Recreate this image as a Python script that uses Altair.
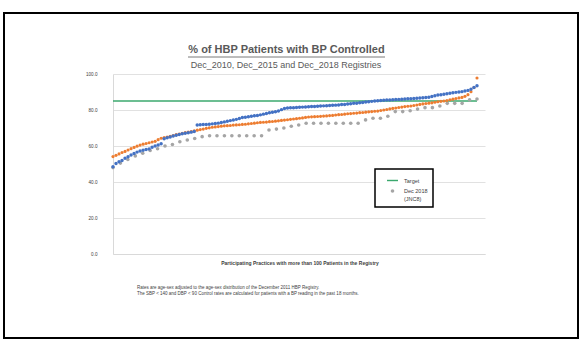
import altair as alt
import pandas as pd

# ---- series (practice control rates, sorted ascending within each registry) ----
series_names = ["Dec 2010", "Dec 2015", "Dec 2018 (JNC8)", "Target"]
series_colors = ["#4472C4", "#ED7D31", "#A5A5A5", "#3BA86E"]

dec_2010 = [
    48.5, 50.3, 51.2, 52.0, 53.2, 54.0, 55.0, 55.8, 56.6, 57.2,
    57.6, 58.0, 58.4, 59.3, 60.0, 60.6, 61.2, 64.0, 64.6, 65.0,
    65.5, 66.0, 66.4, 66.8, 67.1, 67.4, 67.7, 68.0,
    71.7, 71.8, 71.9, 72.0, 72.1, 72.3, 72.5, 72.7, 73.0, 73.4,
    73.8, 74.1, 74.4, 74.8, 75.3, 75.8, 76.0, 76.2, 76.5, 76.8,
    77.0, 77.3, 77.7, 78.1, 78.5, 78.8, 79.0, 79.5, 80.2, 80.8,
    81.1, 81.2, 81.3, 81.4, 81.5, 81.6, 81.7, 81.8, 81.9, 82.0,
    82.1, 82.2, 82.3, 82.4, 82.5, 82.6, 82.7, 82.8, 83.0, 83.1,
    83.3, 83.5, 83.7, 83.8, 84.0, 84.2, 84.4, 84.6, 84.8, 85.0,
    85.1, 85.3, 85.4, 85.5, 85.6, 85.7, 85.8, 85.9, 86.0, 86.1,
    86.2, 86.3, 86.4, 86.5, 86.7, 86.8, 86.9, 87.1, 87.5, 87.9,
    88.3, 88.5, 88.7, 89.0, 89.3, 89.6, 89.8, 90.0, 90.2, 90.5,
    90.9, 91.5, 92.5, 93.5,
]

dec_2015 = [
    54.1, 54.8, 55.6, 56.4, 57.0, 57.8, 58.5, 59.2, 59.9, 60.5,
    61.0, 61.4, 61.8, 62.2, 62.6, 63.5, 64.3, 64.7, 65.0, 65.4,
    65.8, 66.3, 66.6, 67.0, 67.4, 67.7, 68.0, 68.4, 68.8, 69.1,
    69.4, 69.8, 70.1, 70.4, 70.6, 70.8, 71.0, 71.2, 71.3, 71.4,
    71.6, 71.7, 71.8, 72.0, 72.1, 72.3, 72.5, 72.7, 72.9, 73.1,
    73.2, 73.3, 73.5, 73.6, 73.8, 74.0, 74.2, 74.4, 74.6, 74.8,
    75.0, 75.2, 75.4, 75.6, 75.9, 76.1, 76.2, 76.3, 76.4, 76.5,
    76.6, 76.7, 76.9, 77.0, 77.2, 77.4, 77.5, 77.7, 77.9, 78.0,
    78.2, 78.3, 78.5, 78.6, 78.8, 79.0, 79.1, 79.3, 79.4, 79.7,
    80.0, 80.3, 80.6, 80.9, 81.1, 81.4, 81.6, 81.9, 82.1, 82.2,
    82.5, 82.8, 83.1, 83.4, 83.6, 83.8, 84.0, 84.3, 84.6, 84.8,
    85.0, 85.3, 85.7, 86.0, 86.4, 86.7, 87.0, 87.6, 88.5, 90.2,
    92.5, 97.8,
]

dec_2018 = [
    48.0, 50.5, 52.5, 54.5, 56.0, 57.5, 58.5, 60.0, 60.8, 62.4,
    63.3, 64.2, 65.2, 65.7, 65.7, 65.7, 65.7, 65.7, 65.7, 65.7,
    65.7, 68.9, 69.4, 70.0, 71.0, 71.7, 72.6, 72.6, 72.6, 72.6,
    72.6, 72.6, 72.6, 72.6, 74.5, 75.4, 75.4, 76.5, 79.1, 79.1,
    79.6, 80.5, 81.3, 81.3, 82.2, 83.7, 83.7, 83.7, 85.6, 86.1,
]

target_rate = [85]
y_ticks = [0, 20, 40, 60, 80, 100]
legend_items = ["Target", "Dec 2018 (JNC8)"]

title_text = "% of HBP Patients with BP Controlled"
subtitle_text = "Dec_2010, Dec_2015 and Dec_2018 Registries"
x_title_text = "Participating Practices with more than 100 Patients in the Registry"
note_lines = [
    "Rates are age-sex adjusted to the age-sex distribution of the December 2011 HBP Registry.",
    "The SBP < 140 and DBP < 90 Control rates are calculated for patients with a BP reading in the past 18 months.",
]

FONT = "Liberation Sans"
GRID = "#D9D9D9"
TEXT = "#404040"


def ranked(values, name):
    """Spread one registry's sorted practices across a 0-100 rank axis."""
    n = len(values)
    return pd.DataFrame({
        "series": name,
        "rank": [100 * i / (n - 1) for i in range(n)],
        "rate": values,
    })


# draw order: 2018 underneath, then 2015, then 2010 on top
points = pd.concat([
    ranked(dec_2018, series_names[2]),
    ranked(dec_2015, series_names[1]),
    ranked(dec_2010, series_names[0]),
], ignore_index=True)

target_df = pd.DataFrame({"start": [0], "end": [100], "rate": target_rate})
one_row = pd.DataFrame({"k": [0]})

x_scale = alt.Scale(domain=[0, 102.2], nice=False, zero=False)
y_scale = alt.Scale(domain=[0, 100], nice=False)
x_axis = alt.Axis(labels=False, ticks=False, grid=False, title=None,
                  domainColor=GRID, domainWidth=1)
y_axis = alt.Axis(values=y_ticks, format=".1f", ticks=False, title=None,
                  domainColor=GRID, gridColor=GRID, gridWidth=0.8,
                  labelFont=FONT, labelFontSize=4.6, labelColor=TEXT,
                  labelPadding=16)

# trailing em spaces widen the legend box on the right
legend = alt.Legend(
    title=None, values=legend_items, orient="none", legendX=262, legendY=95,
    strokeColor="black", fillColor="white", padding=5, rowPadding=4,
    labelFont=FONT, labelFontSize=5.5, labelColor=TEXT, labelOffset=5,
    labelExpr=("datum.label == 'Target' ? 'Target' : "
               "['Dec 2018\u2003\u2003\u2003', '(JNC8)']"),
)
color_enc = alt.Color("series:N", legend=legend,
                      scale=alt.Scale(domain=series_names, range=series_colors))
shape_enc = alt.Shape("series:N", legend=legend,
                      scale=alt.Scale(domain=series_names,
                                      range=["circle", "circle", "circle",
                                             "M-1,-0.13H1V0.13H-1Z"]))
size_enc = alt.Size("series:N", legend=legend,
                    scale=alt.Scale(type="ordinal", domain=series_names,
                                    range=[12, 10, 13, 121]))

# outer slide frame
frame = alt.Chart(one_row).mark_rect(filled=False, stroke="black", strokeWidth=2).encode(
    x=alt.value(-109), x2=alt.value(465), y=alt.value(-61), y2=alt.value(264)
)

target = alt.Chart(target_df).mark_rule(color=series_colors[3], strokeWidth=1.4).encode(
    x=alt.X("start:Q", scale=x_scale, axis=x_axis),
    x2="end:Q",
    y=alt.Y("rate:Q", scale=y_scale, axis=y_axis),
)

dots = alt.Chart(points).mark_point(filled=True, opacity=1).encode(
    x=alt.X("rank:Q", scale=x_scale, axis=x_axis),
    y=alt.Y("rate:Q", scale=y_scale, axis=y_axis),
    color=color_enc, shape=shape_enc, size=size_enc,
)


def label(text, x, y, size, weight="normal", align="center", color=TEXT):
    return alt.Chart(pd.DataFrame({"t": [text]})).mark_text(
        font=FONT, fontSize=size, fontWeight=weight, align=align,
        baseline="middle", color=color,
    ).encode(text="t:N", x=alt.value(x), y=alt.value(y))


title = label(title_text, 173.5, -24, 11, weight="bold", color="#595959")
underline = alt.Chart(one_row).mark_rule(color="#595959", strokeWidth=0.8).encode(
    x=alt.value(75), x2=alt.value(272), y=alt.value(-17)
)
subtitle = label(subtitle_text, 173, -9, 9, color="#595959")
x_title = label(x_title_text, 187, 189, 5, weight="bold")
note1 = label(note_lines[0], 24, 214, 4.5, align="left")
note2 = label(note_lines[1], 24, 220, 4.5, align="left")

chart = alt.layer(
    frame, target, dots, title, underline, subtitle, x_title, note1, note2
).properties(
    width=372, height=180,
    autosize=alt.AutoSizeParams(type="none"),
    padding={"left": 113, "top": 74, "right": 97, "bottom": 85},
    background="white",
).configure_view(stroke=None).configure_legend(strokeWidth=1.5, symbolOffset=6)

chart.save("out.html", embed_options={"renderer": "svg", "actions": False})
